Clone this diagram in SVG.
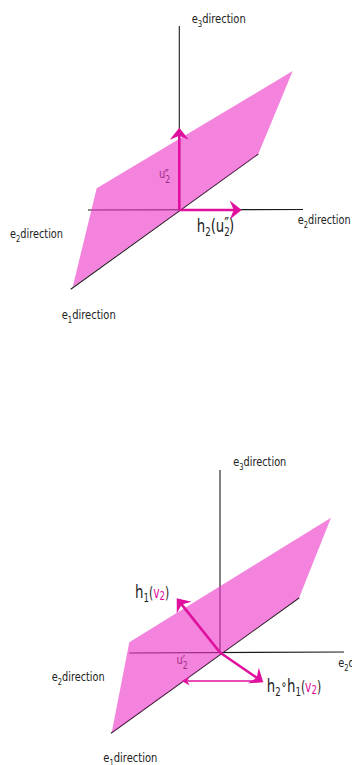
<svg xmlns="http://www.w3.org/2000/svg" width="352" height="765" viewBox="0 0 352 765">
<style>
.ax{stroke:#1a1a1a;stroke-width:1.1;fill:none}
.pl{fill:#eb30c5;fill-opacity:0.6;stroke:none}
.ar{stroke:#e0109e;stroke-width:2.6;fill:none}
.thin{stroke:#e0109e;stroke-width:1.3;fill:none}
text{font-family:"Liberation Sans Narrow","DejaVu Sans Condensed","Liberation Sans",sans-serif;fill:#222}
.d{font-size:13px}
.sb{font-size:9px}
.m{font-size:18.5px}
.ms{font-size:12px}
.mp{font-size:15px}
.mg{fill:#e0109e}
</style>
<defs>
<marker id="ah" viewBox="-12 -11 16 22" markerWidth="16" markerHeight="22" refX="0" refY="0" orient="auto" markerUnits="userSpaceOnUse">
<path d="M3,0 L-9,-9.5 L-5,0 L-9,9.5 Z" fill="#e0109e"/>
</marker>
<marker id="ahs" viewBox="-8 -6 11 12" markerWidth="11" markerHeight="12" refX="0" refY="0" orient="auto" markerUnits="userSpaceOnUse">
<path d="M2,0 L-6,-4.5 L-3.5,0 L-6,4.5 Z" fill="#e0109e"/>
</marker>
</defs>

<g id="top-panel">
<g id="top-axes">
<line class="ax" x1="179.3" y1="26" x2="179.3" y2="210"/>
<line class="ax" x1="88" y1="210" x2="303" y2="209.5"/>
<line class="ax" x1="70.7" y1="289.3" x2="258.3" y2="154"/>
</g>
<g transform="translate(159,178) scale(0.85,1)">
<text id="top-u2pp" x="0" y="0" style="font-size:13px" fill="#333">u<tspan dy="5" class="sb" style="font-size:10px">2</tspan><tspan x="6.5" dy="-2" style="font-size:15px">″</tspan></text>
</g>
<polygon id="top-plane" class="pl" points="96.7,188.3 292.7,71 258.3,154 72.7,287"/>
<g id="top-arrows">
<line class="ar" x1="179.3" y1="210" x2="179.3" y2="130.7" marker-end="url(#ah)"/>
<line class="ar" x1="179.3" y1="210" x2="238.7" y2="210" marker-end="url(#ah)"/>
</g>
<g id="top-labels">
<text class="d" x="191.7" y="23" textLength="54" lengthAdjust="spacingAndGlyphs">e<tspan class="sb" dy="4">3</tspan><tspan dy="-4">direction</tspan></text>
<text class="d" x="297.7" y="224" textLength="53" lengthAdjust="spacingAndGlyphs">e<tspan class="sb" dy="4">2</tspan><tspan dy="-4">direction</tspan></text>
<text class="d" x="10" y="238" textLength="53" lengthAdjust="spacingAndGlyphs">e<tspan class="sb" dy="4">2</tspan><tspan dy="-4">direction</tspan></text>
<text class="d" x="61.7" y="319" textLength="54" lengthAdjust="spacingAndGlyphs">e<tspan class="sb" dy="4">1</tspan><tspan dy="-4">direction</tspan></text>
<g transform="translate(196.7,232) scale(0.8,1)">
<text class="m" x="0" y="0">h<tspan class="ms" dy="4">2</tspan><tspan dy="-4">(u</tspan><tspan class="ms" dy="4">2</tspan><tspan dx="-7" dy="-6" style="font-size:18px">″</tspan><tspan dy="2">)</tspan></text>
</g>
</g>
</g>

<g id="bottom-panel">
<g id="bottom-axes">
<line class="ax" x1="220" y1="470" x2="220" y2="652.5"/>
<line class="ax" x1="129.3" y1="653" x2="344" y2="652"/>
<line class="ax" x1="111" y1="733.3" x2="299.3" y2="597.7"/>
</g>
<g transform="translate(176.5,664) scale(0.85,1)">
<text id="bottom-u2p" x="0" y="0" style="font-size:13px" fill="#333">u<tspan dy="5" class="sb" style="font-size:10px">2</tspan><tspan x="7" dy="-2" style="font-size:15px">′</tspan></text>
</g>
<polygon id="bottom-plane" class="pl" points="129.3,642.3 331,517.7 299.3,597.3 111.7,732.7"/>
<g id="bottom-arrows">
<line class="ar" x1="220" y1="652.5" x2="178.6" y2="600.6" marker-end="url(#ah)"/>
<line class="ar" x1="220" y1="652.5" x2="260.8" y2="680.6" marker-end="url(#ah)"/>
<line class="thin" x1="257" y1="681" x2="183.7" y2="681" marker-end="url(#ahs)"/>
</g>
<g id="bottom-labels">
<text class="d" x="233.3" y="466" textLength="53" lengthAdjust="spacingAndGlyphs">e<tspan class="sb" dy="4">3</tspan><tspan dy="-4">direction</tspan></text>
<text class="d" x="338.3" y="666.7" textLength="53" lengthAdjust="spacingAndGlyphs">e<tspan class="sb" dy="4">2</tspan><tspan dy="-4">direction</tspan></text>
<text class="d" x="51.7" y="680.7" textLength="53" lengthAdjust="spacingAndGlyphs">e<tspan class="sb" dy="4">2</tspan><tspan dy="-4">direction</tspan></text>
<text class="d" x="103.3" y="761.7" textLength="54" lengthAdjust="spacingAndGlyphs">e<tspan class="sb" dy="4">1</tspan><tspan dy="-4">direction</tspan></text>
<g transform="translate(135,597.5) scale(0.8,1)">
<text class="m" x="0" y="0">h<tspan class="ms" dy="4">1</tspan><tspan class="mp" dy="-4">(</tspan><tspan class="mg mp">v</tspan><tspan class="mg ms" dy="2">2</tspan><tspan class="mp" dy="-2">)</tspan></text>
</g>
<g transform="translate(266.7,692) scale(0.8,1)">
<text class="m" x="0" y="0">h<tspan class="ms" dy="4">2</tspan><tspan style="font-size:14px" dy="-7">∘</tspan><tspan dy="3">h</tspan><tspan class="ms" dy="4">1</tspan><tspan class="mp" dy="-4">(</tspan><tspan class="mg mp">v</tspan><tspan class="mg ms" dy="2">2</tspan><tspan class="mp" dy="-2">)</tspan></text>
</g>
</g>
</g>
</svg>
